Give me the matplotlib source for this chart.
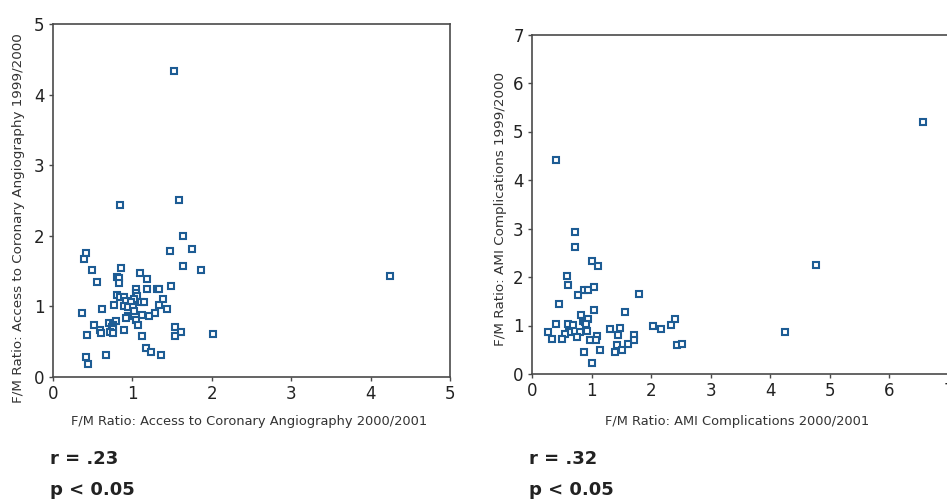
import numpy as np
import matplotlib
matplotlib.use('Agg')
from matplotlib import pyplot as plt

plt.rcParams['font.family'] = ['DejaVu Sans']

# Access to coronary angiography: 2000/2001 vs 1999/2000
angio_x = [1.52, 0.85, 1.59, 1.64, 1.75, 1.47, 0.42, 0.39, 1.64, 0.86,
           0.49, 1.86, 1.09, 4.24, 0.81, 0.83, 1.18, 0.56, 0.83, 1.49,
           1.04, 1.18, 1.31, 1.34, 0.81, 0.84, 0.90, 1.05, 1.06, 1.38,
           1.02, 0.92, 0.98, 1.11, 1.15, 0.77, 1.33, 0.89, 0.95, 1.01,
           0.62, 1.02, 1.43, 0.37, 1.28, 1.12, 1.21, 0.95, 0.92, 1.05,
           0.79, 0.70, 0.52, 1.07, 1.54, 0.76, 0.74, 0.76, 0.59, 0.60,
           0.72, 0.76, 0.90, 1.61, 2.01, 0.43, 1.12, 1.54, 1.17, 1.24,
           0.67, 1.36, 0.41, 0.44]
angio_y = [4.34, 2.43, 2.50, 2.00, 1.82, 1.78, 1.75, 1.67, 1.57, 1.55,
           1.52, 1.52, 1.47, 1.43, 1.41, 1.40, 1.39, 1.35, 1.33, 1.29,
           1.25, 1.25, 1.24, 1.25, 1.16, 1.14, 1.14, 1.19, 1.15, 1.10,
           1.10, 1.07, 1.06, 1.06, 1.06, 1.02, 1.02, 1.01, 0.99, 0.99,
           0.97, 0.94, 0.96, 0.91, 0.91, 0.88, 0.87, 0.87, 0.83, 0.81,
           0.79, 0.76, 0.73, 0.73, 0.71, 0.73, 0.71, 0.68, 0.66, 0.63,
           0.64, 0.63, 0.66, 0.64, 0.61, 0.59, 0.58, 0.58, 0.41, 0.35,
           0.31, 0.31, 0.29, 0.19]

# AMI complications: 2000/2001 vs 1999/2000
ami_x = [6.57, 0.41, 4.77, 0.73, 0.73, 1.01, 1.11, 0.59, 0.61, 0.87,
         0.94, 1.05, 0.78, 1.80, 0.46, 1.05, 1.57, 0.83, 0.85, 0.89,
         0.94, 0.90, 2.40, 0.40, 0.61, 0.69, 2.33, 2.03, 1.48, 1.31,
         2.17, 0.27, 0.62, 0.56, 0.81, 0.92, 4.26, 1.45, 1.71, 1.10,
         0.76, 0.33, 0.50, 0.97, 1.07, 1.71, 1.62, 1.43, 2.43, 2.52,
         1.15, 1.51, 0.87, 1.39, 1.01]
ami_y = [5.19, 4.41, 2.25, 2.92, 2.62, 2.34, 2.22, 2.03, 1.83, 1.74,
         1.73, 1.79, 1.62, 1.64, 1.44, 1.31, 1.27, 1.21, 1.10, 1.07,
         1.14, 1.04, 1.13, 1.04, 1.04, 1.01, 1.02, 0.99, 0.94, 0.92,
         0.92, 0.86, 0.87, 0.83, 0.86, 0.88, 0.87, 0.80, 0.81, 0.78,
         0.76, 0.73, 0.73, 0.71, 0.71, 0.71, 0.62, 0.60, 0.60, 0.62,
         0.50, 0.50, 0.46, 0.46, 0.23]

panels = [
    dict(x=angio_x, y=angio_y, xmax=5, ymax=5,
         xlabel='F/M Ratio: Access to Coronary Angiography 2000/2001',
         ylabel='F/M Ratio: Access to Coronary Angiography 1999/2000',
         r='r = .23', p='p < 0.05',
         rect=[53/947, 1-377/504, 397/947, 353/504], ylab_x=19, ylab_y=218),
    dict(x=ami_x, y=ami_y, xmax=7, ymax=7,
         xlabel='F/M Ratio: AMI Complications 2000/2001',
         ylabel='F/M Ratio: AMI Complications 1999/2000',
         r='r = .32', p='p < 0.05',
         rect=[532/947, 1-374/504, 416.5/947, 339.5/504], ylab_x=500, ylab_y=209),
]

blue = '#1d5c94'
spine_col = '#4a4a4a'

fig = plt.figure(figsize=(9.47, 5.04), dpi=100)

for pn in panels:
    ax = fig.add_axes(pn['rect'])
    ax.plot(pn['x'], pn['y'], linestyle='none', marker='s', markersize=5,
            markerfacecolor='white', markeredgecolor=blue, markeredgewidth=1.5)
    ax.set_xlim(0, pn['xmax'])
    ax.set_ylim(0, pn['ymax'])
    ax.set_xticks(range(pn['xmax'] + 1))
    ax.set_yticks(range(pn['ymax'] + 1))
    ax.tick_params(direction='out', length=3, width=1, colors=spine_col,
                   labelcolor='#222222', labelsize=12, pad=3)
    for s in ax.spines.values():
        s.set_color(spine_col)
        s.set_linewidth(1.2)

    x0 = pn['rect'][0] * 947
    x1 = x0 + pn['rect'][2] * 947
    fig.text((x0 + x1) / 2 / 947 - 0.003, 1 - 421 / 504, pn['xlabel'],
             ha='center', va='center', fontsize=9.4, color='#333333')
    fig.text(pn['ylab_x'] / 947, 1 - pn['ylab_y'] / 504, pn['ylabel'],
             rotation=90, ha='center', va='center', fontsize=9.7, color='#333333')
    fig.text((x0 - 3) / 947, 1 - 459 / 504, pn['r'], ha='left', va='center',
             fontsize=13, fontweight='bold', color='#222222')
    fig.text((x0 - 3) / 947, 1 - 490 / 504, pn['p'], ha='left', va='center',
             fontsize=13, fontweight='bold', color='#222222')

fig.savefig('out.png', dpi=100)
